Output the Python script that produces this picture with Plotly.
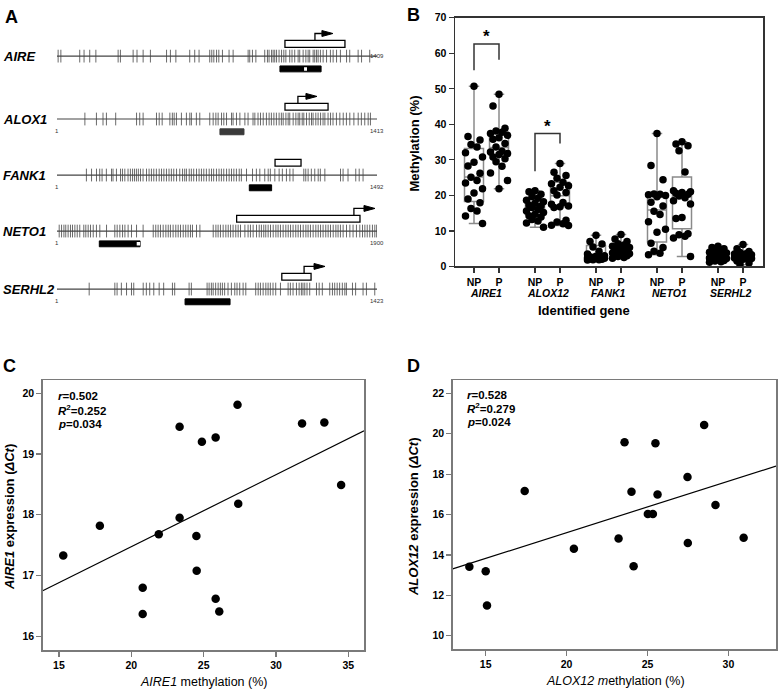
import plotly.graph_objects as go

W, H = 778, 696
FONT = "Liberation Sans, Arial, sans-serif"


def fx(px):
    return px / W


def fy(py):
    return 1 - py / H


# ---------------- Panel A data (CpG map, bp positions) ----------------
a_genes = ["AIRE", "ALOX1", "FANK1", "NETO1", "SERHL2"]
a_lengths = [1409, 1413, 1492, 1900, 1423]
cpg_aire = [6, 18, 101, 120, 145, 172, 270, 280, 336, 353, 380, 412, 483, 500, 524, 585, 607, 626,
            673, 682, 691, 703, 713, 729, 758, 776, 842, 849, 861, 876, 915, 927, 934, 945, 952, 959,
            967, 978, 989, 999, 1008, 1025, 1035, 1047, 1062, 1069, 1084, 1096, 1106, 1113, 1128,
            1135, 1143, 1150, 1160, 1172, 1187, 1204, 1216, 1231, 1248, 1275, 1289, 1326, 1341, 1377]
cpg_alox1 = [124, 175, 204, 219, 260, 352, 366, 381, 440, 452, 465, 499, 510, 518, 528, 550, 572, 587,
             594, 616, 631, 675, 690, 702, 712, 727, 737, 749, 771, 778, 793, 808, 830, 844, 866, 874,
             888, 899, 911, 925, 937, 947, 958, 969, 981, 991, 999, 1011, 1021, 1028, 1043, 1055, 1065,
             1072, 1083, 1090, 1102, 1114, 1124, 1131, 1143, 1153, 1164, 1175, 1183, 1197, 1208, 1219,
             1234, 1249, 1264, 1278, 1293, 1311, 1330, 1344, 1359, 1374, 1384]
cpg_fank1 = [138, 162, 185, 200, 211, 231, 255, 262, 278, 297, 306, 317, 332, 343, 353, 362, 371, 380,
             390, 402, 418, 430, 441, 452, 464, 477, 488, 499, 511, 523, 534, 545, 558, 573, 586, 596,
             604, 617, 627, 638, 651, 663, 674, 685, 697, 710, 721, 731, 744, 756, 767, 778, 791, 803,
             814, 825, 837, 850, 860, 884, 912, 930, 946, 969, 985, 995, 1016, 1036, 1051, 1070, 1086,
             1101, 1151, 1160, 1171, 1186, 1202, 1218, 1228, 1249, 1322, 1334, 1357, 1393, 1409, 1427]
cpg_neto1 = [14, 28, 42, 53, 67, 81, 93, 107, 121, 136, 160, 172, 186, 200, 216, 235, 255, 295, 344,
             358, 374, 390, 404, 423, 443, 473, 512, 572, 587, 601, 615, 631, 647, 661, 674, 690, 706,
             720, 734, 750, 765, 779, 793, 805, 829, 849, 928, 944, 957, 971, 987, 1003, 1017, 1031,
             1046, 1062, 1076, 1090, 1116, 1135, 1149, 1165, 1185, 1201, 1214, 1228, 1240, 1254, 1268,
             1284, 1300, 1313, 1327, 1343, 1359, 1373, 1387, 1402, 1418, 1432, 1446, 1462, 1478, 1491,
             1505, 1521, 1537, 1551, 1565, 1580, 1596, 1610, 1624, 1640, 1656, 1669, 1683, 1699, 1719,
             1739, 1758, 1778, 1798, 1814, 1828, 1842, 1857, 1873, 1887, 1898]
cpg_serhl2 = [144, 258, 268, 287, 310, 332, 342, 384, 398, 413, 431, 455, 475, 514, 524, 588, 598, 668,
              677, 687, 695, 706, 717, 727, 736, 746, 761, 776, 791, 801, 813, 828, 840, 884, 895, 905,
              917, 929, 939, 949, 961, 973, 994, 1028, 1038, 1050, 1065, 1077, 1087, 1094, 1102, 1112,
              1124, 1154, 1166, 1180, 1213, 1225, 1235, 1246, 1257, 1269, 1280, 1287, 1314, 1328, 1361,
              1376, 1413]
a_cpgs = [cpg_aire, cpg_alox1, cpg_fank1, cpg_neto1, cpg_serhl2]
a_promoter = [(1004, 1268), (1007, 1197), (1017, 1138), (1067, 1799), (1000, 1130)]
a_tss = [1136, 1064, None, 1763, 1099]
a_arrow_tip = [1215, 1148, None, 1888, 1192]
a_amplicon = [(982, 1163), (720, 826), (897, 1001), (252, 494), (570, 770)]
a_amplicon_gap = [(1088, 1101), None, None, (474, 494), None]

# ---------------- Panel B data (methylation %) ----------------
b_genes = ["AIRE1", "ALOX12", "FANK1", "NETO1", "SERHL2"]
b_status = ["NP", "P"]
aire1_np = [50.7, 36.6, 35.6, 34.3, 33.6, 32.0, 30.8, 29.3, 28.3, 26.2, 25.1, 24.2, 23.5, 21.9, 20.7,
            19.0, 17.9, 16.3, 15.6, 14.2, 12.1]
aire1_p = [48.5, 45.2, 38.9, 38.1, 37.8, 37.4, 36.9, 36.2, 35.8, 34.6, 33.6, 32.4, 32.2, 31.8, 31.5,
           30.8, 30.3, 29.5, 28.2, 26.3, 24.2, 21.9]
alox12_np = [21.3, 21.0, 20.3, 19.7, 19.2, 18.6, 18.2, 17.8, 17.3, 17.0, 16.6, 16.0, 15.6, 15.2, 14.7,
             14.3, 13.9, 13.2, 12.8, 12.2, 11.0]
alox12_p = [29.0, 26.5, 25.6, 24.8, 23.7, 23.3, 22.7, 22.3, 21.3, 20.8, 20.1, 18.0, 17.5, 17.0, 16.8,
            16.6, 13.0, 12.5, 12.0, 11.6, 11.5]
fank1_np = [8.8, 7.0, 6.3, 5.5, 4.3, 3.5, 3.0, 2.9, 2.7, 2.6, 2.5, 2.5, 2.4, 2.3, 2.2, 2.1, 2.0, 1.9,
            1.9, 1.8]
fank1_p = [9.0, 7.7, 7.0, 6.4, 6.0, 5.7, 5.3, 5.0, 4.8, 4.5, 4.2, 4.0, 3.8, 3.6, 3.5, 3.3, 3.0, 2.8,
           2.5, 2.3]
neto1_np = [37.4, 28.4, 24.4, 20.4, 20.3, 20.2, 20.0, 19.6, 18.1, 17.0, 15.5, 14.6, 12.6, 10.5, 9.6,
            6.5, 5.3, 4.3, 3.7, 3.3]
neto1_p = [35.1, 34.5, 34.0, 32.6, 26.6, 21.3, 21.0, 20.8, 20.6, 20.3, 19.8, 19.3, 18.5, 17.6, 13.8,
           13.5, 9.2, 8.9, 8.5, 8.0, 2.8]
serhl2_np = [5.7, 5.3, 5.0, 4.6, 4.3, 4.0, 3.8, 3.5, 3.3, 3.0, 2.8, 2.6, 2.4, 2.2, 2.0, 1.9, 1.7, 1.5,
             1.3, 1.2]
serhl2_p = [6.2, 5.0, 4.2, 3.9, 3.6, 3.5, 3.3, 3.2, 3.0, 2.9, 2.8, 2.6, 2.4, 2.2, 2.0, 1.5, 1.0, 0.5]
b_values = [aire1_np, aire1_p, alox12_np, alox12_p, fank1_np, fank1_p, neto1_np, neto1_p,
            serhl2_np, serhl2_p]
b_lower = [12.1, 21.9, 11.0, 11.5, 1.8, 2.2, 3.3, 2.8, 1.2, 0.5]
b_q1 = [18.3, 31.3, 14.6, 16.8, 2.3, 3.5, 6.9, 10.6, 1.8, 2.4]
b_median = [25.2, 33.5, 17.3, 19.9, 2.9, 4.6, 15.9, 19.6, 2.8, 3.0]
b_q3 = [33.2, 37.7, 18.8, 23.7, 5.9, 5.8, 20.3, 25.2, 4.2, 3.9]
b_upper = [50.7, 48.5, 21.3, 29.0, 8.8, 9.0, 37.4, 35.1, 5.7, 6.2]
# significance brackets: gene index, left leg bottom, top, right leg bottom
b_sig = [(0, 55.2, 62.6, 58.2), (1, 26.8, 37.4, 34.6)]
b_yticks = [0, 10, 20, 30, 40, 50, 60, 70]

# ---------------- Panel C data ----------------
c_meth = [23.34, 24.88, 25.83, 27.34, 31.8, 33.34, 34.5, 27.39, 15.3, 17.83, 21.9, 23.34, 24.5,
          24.52, 20.79, 20.79, 25.83, 26.08]
c_expr = [19.45, 19.2, 19.27, 19.81, 19.5, 19.52, 18.49, 18.18, 17.33, 17.82, 17.68, 17.95, 17.65,
          17.08, 16.8, 16.37, 16.62, 16.41]
c_fit_x = [13.88, 36.08]
c_fit_y = [16.75, 19.38]
c_stats = ["<i>r</i>=0.502", "<i>R</i><sup>2</sup>=0.252", "<i>p</i>=0.034"]
c_xticks = [15, 20, 25, 30, 35]
c_yticks = [16, 17, 18, 19, 20]

# ---------------- Panel D data ----------------
d_meth = [17.41, 23.58, 25.49, 28.5, 27.47, 24.01, 25.62, 29.2, 13.99, 15.0, 15.08, 20.45, 23.21,
          24.14, 25.02, 25.33, 27.49, 30.94]
d_expr = [17.16, 19.58, 19.53, 20.43, 17.86, 17.13, 16.99, 16.47, 13.41, 13.19, 11.5, 14.3, 14.81,
          13.44, 16.03, 16.03, 14.59, 14.85]
d_fit_x = [12.96, 32.94]
d_fit_y = [13.31, 18.40]
d_stats = ["<i>r</i>=0.528", "<i>R</i><sup>2</sup>=0.279", "<i>p</i>=0.024"]
d_xticks = [15, 20, 25, 30]
d_yticks = [10, 12, 14, 16, 18, 20, 22]

fig = go.Figure()
shapes = []
annotations = []

# ================= Panel A =================
track_y = [51, 115, 172, 229, 288]
end_label_dy = [0, 12, 12, 12, 12]
show_start = [False, True, True, True, True]
amp_colors = ["black", "#3a3a3a", "black", "black", "black"]
HEAD = 11 / 320.0
for i, g in enumerate(a_genes):
    L = a_lengths[i]
    yc = track_y[i]

    def nz(p, L=L):
        return (p - 1) / (L - 1)

    shapes.append(dict(type="line", xref="x", yref="y", x0=0, x1=1, y0=yc, y1=yc,
                       line=dict(color="#444", width=1.2)))
    xs, ys = [], []
    for p in a_cpgs[i]:
        xs += [nz(p), nz(p), None]
        ys += [yc - 6.5, yc + 6.5, None]
    fig.add_trace(go.Scatter(x=xs, y=ys, mode="lines", line=dict(color="#6a6a6a", width=1),
                             xaxis="x", yaxis="y", showlegend=False, hoverinfo="skip"))
    b0, b1 = a_promoter[i]
    shapes.append(dict(type="rect", xref="x", yref="y", x0=nz(b0), x1=nz(b1), y0=yc - 16, y1=yc - 9,
                       line=dict(color="black", width=1.3), fillcolor="white"))
    if a_tss[i] is not None:
        t, tip = nz(a_tss[i]), nz(a_arrow_tip[i])
        shapes.append(dict(type="path", xref="x", yref="y",
                           path=f"M {t},{yc-16} L {t},{yc-23} L {tip-HEAD},{yc-23}",
                           line=dict(color="black", width=1.3)))
        shapes.append(dict(type="path", xref="x", yref="y",
                           path=f"M {tip-HEAD},{yc-26} L {tip},{yc-23} L {tip-HEAD},{yc-20} Z",
                           line=dict(color="black", width=1), fillcolor="black"))
    a0, a1 = a_amplicon[i]
    shapes.append(dict(type="rect", xref="x", yref="y", x0=nz(a0), x1=nz(a1), y0=yc + 10, y1=yc + 16,
                       line=dict(color=amp_colors[i], width=1), fillcolor=amp_colors[i]))
    if a_amplicon_gap[i] is not None:
        g0, g1 = a_amplicon_gap[i]
        shapes.append(dict(type="rect", xref="x", yref="y", x0=nz(g0), x1=nz(g1), y0=yc + 11.2,
                           y1=yc + 14.8, line=dict(color="white", width=0), fillcolor="white"))
    annotations.append(dict(xref="paper", yref="y", x=fx(1), y=yc, xanchor="left", yanchor="middle",
                            text=f"<b><i>{g}</i></b>", showarrow=False,
                            font=dict(size=13, family=FONT, color="black")))
    if show_start[i]:
        annotations.append(dict(xref="x", yref="y", x=0, y=yc + 12, xanchor="center", yanchor="middle",
                                text="1", showarrow=False, font=dict(size=6, family=FONT, color="#333")))
    annotations.append(dict(xref="x", yref="y", x=1, y=yc + end_label_dy[i], xanchor="center",
                            yanchor="middle", text=str(L), showarrow=False,
                            font=dict(size=6, family=FONT, color="#333")))

# ================= Panel B =================
GAP = 2.44
pos = [gi * GAP + k for gi in range(len(b_genes)) for k in range(len(b_status))]
fig.add_trace(go.Box(x=pos, q1=b_q1, median=b_median, q3=b_q3, lowerfence=b_lower, upperfence=b_upper,
                     width=0.76, whiskerwidth=0.55, fillcolor="rgba(0,0,0,0)", boxpoints=False,
                     line=dict(color="#8a8a8a", width=1.5), xaxis="x2", yaxis="y2", showlegend=False,
                     hoverinfo="skip"))
offs = [0.0, -0.24, 0.24, -0.12, 0.12, -0.34, 0.34]
for j, vals in enumerate(b_values):
    order = sorted(range(len(vals)), key=lambda k: -vals[k])
    xs = [0.0] * len(vals)
    for r, k in enumerate(order):
        xs[k] = pos[j] + offs[r % len(offs)]
    fig.add_trace(go.Scatter(x=xs, y=vals, mode="markers", marker=dict(color="black", size=7.5),
                             xaxis="x2", yaxis="y2", showlegend=False, hoverinfo="skip"))
for gi, lb, top, rb in b_sig:
    x0, x1 = gi * GAP, gi * GAP + 1
    fig.add_trace(go.Scatter(x=[x0, x0, x1, x1], y=[lb, top, top, rb], mode="lines",
                             line=dict(color="#333", width=1.5), xaxis="x2", yaxis="y2",
                             showlegend=False, hoverinfo="skip"))
    annotations.append(dict(xref="x2", yref="y2", x=(x0 + x1) / 2, y=top, xanchor="center",
                            yanchor="bottom", yshift=-4, text="<b>*</b>", showarrow=False,
                            font=dict(size=17, family=FONT, color="black")))
for gi, g in enumerate(b_genes):
    annotations.append(dict(xref="x2", yref="paper", x=gi * GAP + 0.5, y=fy(292.5), xanchor="center",
                            yanchor="middle", text=f"<b><i>{g}</i></b>", showarrow=False,
                            font=dict(size=10.5, family=FONT, color="black")))
annotations.append(dict(xref="paper", yref="paper", x=fx(584), y=fy(310), xanchor="center",
                        yanchor="middle", text="<b>Identified gene</b>", showarrow=False,
                        font=dict(size=13, family=FONT, color="black")))
annotations.append(dict(xref="paper", yref="paper", x=fx(415), y=fy(140), xanchor="center",
                        yanchor="middle", textangle=-90, text="<b>Methylation (%)</b>",
                        showarrow=False, font=dict(size=13, family=FONT, color="black")))

# ================= Panel C =================
fig.add_trace(go.Scatter(x=c_fit_x, y=c_fit_y, mode="lines", line=dict(color="black", width=1.2),
                         xaxis="x3", yaxis="y3", showlegend=False, hoverinfo="skip"))
fig.add_trace(go.Scatter(x=c_meth, y=c_expr, mode="markers", marker=dict(color="black", size=8.5),
                         xaxis="x3", yaxis="y3", showlegend=False, hoverinfo="skip"))
for k, t in enumerate(c_stats):
    annotations.append(dict(xref="paper", yref="paper", x=fx(56), y=fy(397 + 14.3 * k), xanchor="left",
                            yanchor="middle", text=f"<b>{t}</b>", showarrow=False,
                            font=dict(size=11.5, family=FONT, color="black")))
annotations.append(dict(xref="paper", yref="paper", x=fx(9), y=fy(520), xanchor="center",
                        yanchor="middle", textangle=-90,
                        text="<b><i>AIRE1</i> expression (<i>ΔCt</i>)</b>", showarrow=False,
                        font=dict(size=13, family=FONT, color="black")))
annotations.append(dict(xref="paper", yref="paper", x=fx(203), y=fy(688), xanchor="center",
                        yanchor="middle", text="<i>AIRE1</i> methylation (%)", showarrow=False,
                        font=dict(size=12.5, family=FONT, color="black")))

# ================= Panel D =================
fig.add_trace(go.Scatter(x=d_fit_x, y=d_fit_y, mode="lines", line=dict(color="black", width=1.2),
                         xaxis="x4", yaxis="y4", showlegend=False, hoverinfo="skip"))
fig.add_trace(go.Scatter(x=d_meth, y=d_expr, mode="markers", marker=dict(color="black", size=8.5),
                         xaxis="x4", yaxis="y4", showlegend=False, hoverinfo="skip"))
for k, t in enumerate(d_stats):
    annotations.append(dict(xref="paper", yref="paper", x=fx(465), y=fy(395.5 + 14 * k), xanchor="left",
                            yanchor="middle", text=f"<b>{t}</b>", showarrow=False,
                            font=dict(size=11.5, family=FONT, color="black")))
annotations.append(dict(xref="paper", yref="paper", x=fx(413), y=fy(520), xanchor="center",
                        yanchor="middle", textangle=-90,
                        text="<b><i>ALOX12</i> expression (<i>ΔCt</i>)</b>", showarrow=False,
                        font=dict(size=13, family=FONT, color="black")))
annotations.append(dict(xref="paper", yref="paper", x=fx(615), y=fy(687), xanchor="center",
                        yanchor="middle", text="<i>ALOX12 m</i>ethylation (%)", showarrow=False,
                        font=dict(size=12.5, family=FONT, color="black")))

# panel letters
for letter, px, py in [("A", 11, 11), ("B", 413, 9), ("C", 9, 366), ("D", 413, 366)]:
    annotations.append(dict(xref="paper", yref="paper", x=fx(px), y=fy(py), xanchor="center",
                            yanchor="middle", text=f"<b>{letter}</b>", showarrow=False,
                            font=dict(size=18, family=FONT, color="black")))

tick_font = dict(size=10.5, family=FONT, color="black")


def sci_axis(domain, rng, tickvals, anchor, color="#7a7a7a", ticktext=None):
    if ticktext is None:
        ticktext = [str(v) for v in tickvals]
    d = dict(domain=domain, range=rng, tickvals=tickvals, ticktext=[f"<b>{t}</b>" for t in ticktext],
             anchor=anchor, showgrid=False, zeroline=False, showline=True, mirror=True,
             linecolor=color, linewidth=1.5, ticks="outside", ticklen=5, tickcolor=color,
             tickwidth=1.2, tickfont=tick_font)
    return d


fig.update_layout(
    width=W, height=H, autosize=False,
    margin=dict(l=0, r=0, t=0, b=0),
    paper_bgcolor="white", plot_bgcolor="rgba(0,0,0,0)",
    font=dict(family=FONT, color="black"),
    hovermode=False, showlegend=False,
    xaxis=dict(domain=[fx(57), fx(377)], range=[0, 1], visible=False, anchor="y"),
    yaxis=dict(domain=[fy(310), fy(20)], range=[310, 20], visible=False, anchor="x"),
    xaxis2=sci_axis([fx(455), fx(763)], [-0.76, 11.56], pos, "y2", color="#333",
                    ticktext=b_status * len(b_genes)),
    yaxis2=sci_axis([fy(265), fy(12)], [0, 70], b_yticks, "x2", color="#333"),
    xaxis3=sci_axis([fx(42.7), fx(364)], [13.88, 36.08], c_xticks, "y3"),
    yaxis3=sci_axis([fy(655.7), fy(381)], [15.77, 20.21], c_yticks, "x3"),
    xaxis4=sci_axis([fx(452.7), fx(776)], [12.96, 32.94], d_xticks, "y4"),
    yaxis4=sci_axis([fy(654.3), fy(381)], [9.34, 22.64], d_yticks, "x4"),
    shapes=shapes,
    annotations=annotations,
)

fig.write_html("out.html",
               config={"displayModeBar": False, "staticPlot": True},
               post_script="document.body.style.margin='0';document.body.style.padding='0';"
                           "document.documentElement.style.overflow='hidden';")
